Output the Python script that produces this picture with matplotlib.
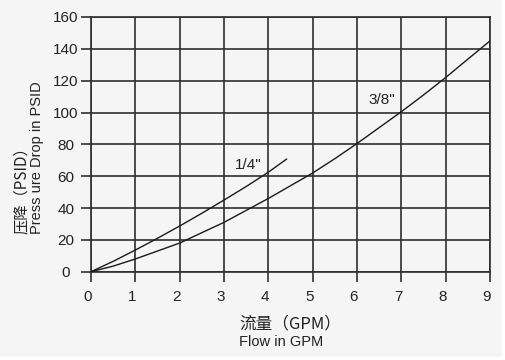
import matplotlib
matplotlib.use("Agg")
import matplotlib.pyplot as plt
from matplotlib.patches import Rectangle
from matplotlib.transforms import ScaledTranslation

# Data
flow_38 = [0, 0.5, 1, 1.5, 2, 2.5, 3, 3.5, 4, 4.5, 5, 5.5, 6, 6.5, 7, 7.5, 8, 8.5, 9]
psid_38 = [0, 3.5, 8, 13, 18, 24.5, 31, 38.5, 46, 54, 62, 71, 80.5, 90.5, 100.5, 111, 122, 133.5, 145]
flow_14 = [0, 0.5, 1, 1.5, 2, 2.5, 3, 3.5, 4, 4.41]
psid_14 = [0, 6.5, 13.6, 21, 28.7, 36.7, 45, 53.5, 62.5, 70.7]
x_ticks = [0, 1, 2, 3, 4, 5, 6, 7, 8, 9]
y_ticks = [0, 20, 40, 60, 80, 100, 120, 140, 160]
label_14 = '1/4"'
label_38 = '3/8"'

bg = "#f5f5f5"
gridc = "#2e2e2e"
linec = "#1a1a1a"
textc = "#222222"

fig = plt.figure(figsize=(5.05, 3.6), dpi=100)
fig.patch.set_facecolor("white")
fig.patches.append(Rectangle((0, 3/360), 1 - 3/505, 1 - 3/360, transform=fig.transFigure,
                             facecolor=bg, edgecolor="none", zorder=-10))

ax = fig.add_axes([91/505, (360-271.7)/360, (490-91)/505, (271.7-17)/360])
ax.set_facecolor(bg)
ax.set_xlim(0, 9)
ax.set_ylim(0, 160)
ax.set_xticks(x_ticks)
ax.set_yticks(y_ticks)
ax.grid(True, color=gridc, linewidth=1.2)
for s in ax.spines.values():
    s.set_color(gridc)
    s.set_linewidth(1.2)
ax.tick_params(direction="out", length=7, width=1.2, color=gridc,
               labelsize=11, labelcolor=textc)
ax.tick_params(axis="x", pad=6)
ax.tick_params(axis="y", pad=11)
shift = ScaledTranslation(-2.2/72, 0, fig.dpi_scale_trans)
for lab in ax.get_xticklabels():
    lab.set_family("Liberation Sans")
    lab.set_transform(lab.get_transform() + shift)
for lab in ax.get_yticklabels():
    lab.set_family("Liberation Sans")
    lab.set_horizontalalignment("center")

ax.plot(flow_38, psid_38, color=linec, linewidth=1.0, zorder=3)
ax.plot(flow_14, psid_14, color=linec, linewidth=1.0, zorder=3)
ax.text(3.54, 67, label_14, ha="center", va="center", fontsize=11,
        family="Liberation Sans", color=textc)
ax.text(6.57, 107.7, label_38, ha="center", va="center", fontsize=11,
        family="Liberation Sans", color=textc)

fam = ["Noto Sans CJK SC", "Liberation Sans", "DejaVu Sans"]
fig.text(21.5/505, (360-234)/360, "压降（PSID）", rotation=90, ha="center", va="bottom",
         fontsize=11, family=fam, color=textc)
fig.text(37/505, (360-234)/360, "Press ure Drop in PSID", rotation=90, ha="center", va="bottom",
         fontsize=10.5, family=["Liberation Sans"], color=textc)
fig.text(239/505, (360-324)/360, "流量（GPM）", ha="left", va="center",
         fontsize=12, family=fam, color=textc)
fig.text(239/505, (360-342)/360, "Flow in GPM", ha="left", va="center",
         fontsize=10.5, family=["Liberation Sans"], color=textc)

fig.savefig("out.png", dpi=100, facecolor=fig.get_facecolor())
